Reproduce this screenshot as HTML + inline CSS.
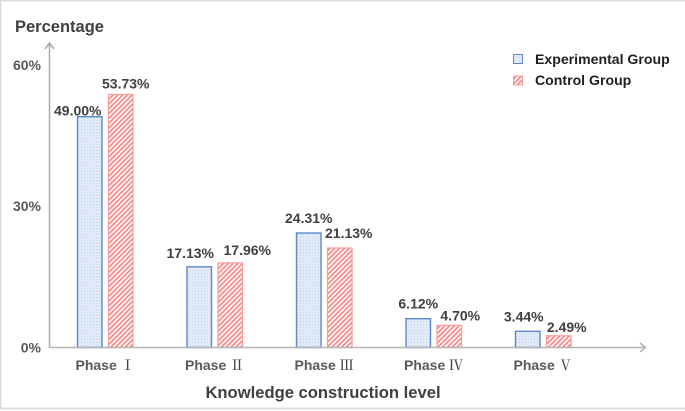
<!DOCTYPE html>
<html>
<head>
<meta charset="utf-8">
<style>
html,body{margin:0;padding:0;background:#fff;}
svg{display:block;}
text{font-family:"Liberation Sans","Noto Sans CJK SC",sans-serif;font-weight:bold;}
tspan.num{font-family:"Noto Serif CJK SC","Liberation Serif",serif;font-weight:500;fill:#454545;}
</style>
</head>
<body>
<svg id="chart" width="685" height="411" viewBox="0 0 685 411" xmlns="http://www.w3.org/2000/svg">
  <defs>
    <pattern id="dots" width="3" height="3" patternUnits="userSpaceOnUse">
      <rect width="3" height="3" fill="#e6eef9"/>
      <rect x="0" y="0" width="1" height="1" fill="#b4cbe9"/>
      <rect x="1.5" y="1.5" width="1" height="1" fill="#c4d6ef"/>
    </pattern>
    <pattern id="stripes" width="3.4" height="3.4" patternUnits="userSpaceOnUse" patternTransform="rotate(45)">
      <rect width="3.4" height="3.4" fill="#fff"/>
      <rect width="1.7" height="3.4" fill="#fb8585"/>
    </pattern>
  </defs>
  <rect x="0.5" y="0.5" width="690" height="408" fill="#fff" stroke="#dcdcdc" stroke-width="2"/>
  <text x="15" y="32" font-size="16.5" fill="#404040">Percentage</text>
  <text x="323" y="398" font-size="16.6" fill="#404040" text-anchor="middle">Knowledge construction level</text>
  <g id="marks"></g>
  <path d="M49.5 347.5V43M45 49L49.5 43L54 49" fill="none" stroke="#aaaaaa" stroke-width="1.5"/>
  <path d="M49.5 347.5H645M640 343L645.5 347.5L640 352" fill="none" stroke="#b4b4b4" stroke-width="1.5"/>
  <g>
    <rect x="513.5" y="54.5" width="9" height="9" fill="url(#dots)" stroke="#5f88cc" stroke-width="1"/>
    <text x="535" y="64" font-size="14.1" fill="#1f1f1f">Experimental Group</text>
    <rect x="513.5" y="76" width="9" height="9" fill="url(#stripes)" stroke="#fb9a9a" stroke-width="1"/>
    <text x="535" y="85" font-size="14.1" fill="#1f1f1f">Control Group</text>
  </g>
</svg>
<script>
const categoryNames = ["Phase", "Phase", "Phase", "Phase", "Phase"];
const categoryNumerals = ["\u2160", "\u2161", "\u2162", "\u2163", "\u2164"];
const experimentalValues = [49.00, 17.13, 24.31, 6.12, 3.44];
const controlValues = [53.73, 17.96, 21.13, 4.70, 2.49];
const yTickValues = [0, 30, 60];

// label nudges relative to each bar's centre and top
const experimentalNudgeX = [-12, -9, 0, 0, -4];
const experimentalNudgeY = [1, 9, 10, 10, 10];
const controlNudgeX = [5, 17, 9, 11, 8];
const controlNudgeY = [6, 8, 10, 5, 4];

const NS = "http://www.w3.org/2000/svg";
const marks = document.getElementById("marks");
const y0 = 347.5, pxPerUnit = 4.71;
const groupStart = 77.5, groupStep = 109.5, barW = 24.5, barGap = 6.5;
function yScale(v) { return y0 - v * pxPerUnit; }
function groupX(i) { return groupStart + i * groupStep; }

function addText(str, x, y, size, fill, anchor) {
  const t = document.createElementNS(NS, "text");
  t.setAttribute("x", x);
  t.setAttribute("y", y);
  t.setAttribute("font-size", size);
  t.setAttribute("fill", fill);
  t.setAttribute("text-anchor", anchor);
  t.textContent = str;
  marks.appendChild(t);
  return t;
}
function addBar(x, v, fill, stroke, width) {
  const r = document.createElementNS(NS, "rect");
  r.setAttribute("x", x);
  r.setAttribute("y", yScale(v));
  r.setAttribute("width", barW);
  r.setAttribute("height", y0 - yScale(v));
  r.setAttribute("fill", fill);
  r.setAttribute("stroke", stroke);
  r.setAttribute("stroke-width", width);
  marks.appendChild(r);
  return r;
}

yTickValues.forEach(function (v) {
  const t = addText(v + "%", 41, yScale(v) + 5, 14, "#595959", "end");
  
  
});

categoryNames.forEach(function (c, i) {
  const x = groupX(i);

  const lab = addText(c + " ", x - 2, 370, 14, "#595959", "start");
  lab.setAttribute("xml:space", "preserve");
  
  
  const num = document.createElementNS(NS, "tspan");
  num.setAttribute("class", "num");
  num.setAttribute("dx", "0");
  num.textContent = categoryNumerals[i];
  lab.appendChild(num);

  const b1 = addBar(x, experimentalValues[i], "url(#dots)", "#5f88cc", "1.4");
  
  

  const c2x = x + barW + barGap;
  const b2 = addBar(c2x, controlValues[i], "url(#stripes)", "#fb9a9a", "1.2");
  
  

  const l1 = addText(experimentalValues[i].toFixed(2) + "%", x + barW / 2 + experimentalNudgeX[i], yScale(experimentalValues[i]) - experimentalNudgeY[i], 14, "#404040", "middle");
  
  

  const l2 = addText(controlValues[i].toFixed(2) + "%", c2x + barW / 2 + controlNudgeX[i], yScale(controlValues[i]) - controlNudgeY[i], 14, "#404040", "middle");
  
  
});
</script>
</body>
</html>
